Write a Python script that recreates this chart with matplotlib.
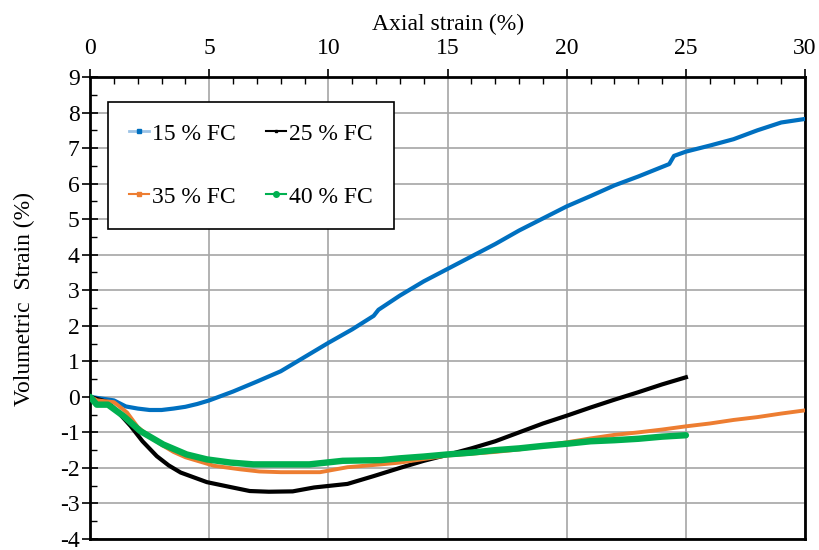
import matplotlib
matplotlib.use("Agg")
import matplotlib.pyplot as plt
from matplotlib.lines import Line2D
from matplotlib.ticker import MultipleLocator

plt.rcParams['font.family'] = ['Liberation Serif', 'DejaVu Serif']
plt.rcParams['axes.unicode_minus'] = False

# Data (axial strain %, volumetric strain %)
fc15_x = [0, 0.5, 1, 1.5, 2, 2.5, 3, 3.5, 4, 4.5, 5, 6, 7, 8, 8.5, 9, 10, 11, 11.9,
          12.1, 13, 14, 15, 16, 17, 18, 19, 20, 21, 22, 23, 24.3, 24.5, 25, 26, 27, 28, 29, 30]
fc15_y = [0, -0.05, -0.1, -0.27, -0.33, -0.37, -0.37, -0.33, -0.28, -0.2, -0.1, 0.15, 0.43,
          0.72, 0.92, 1.12, 1.52, 1.9, 2.28, 2.45, 2.85, 3.25, 3.6, 3.95, 4.3, 4.68, 5.02,
          5.36, 5.65, 5.95, 6.2, 6.55, 6.78, 6.9, 7.07, 7.25, 7.5, 7.72, 7.82]

fc25_x = [0, 0.75, 1.2, 1.7, 2.2, 2.8, 3.3, 3.8, 4.9, 5.9, 6.7, 7.5, 8.5, 9.4, 10.8, 11.9,
          13, 14, 15, 16, 17, 18, 19, 20, 21, 22, 23, 24, 25]
fc25_y = [0, -0.15, -0.45, -0.82, -1.25, -1.67, -1.93, -2.13, -2.4, -2.54, -2.65, -2.67,
          -2.66, -2.55, -2.45, -2.23, -2.0, -1.8, -1.63, -1.45, -1.25, -1.0, -0.75, -0.53,
          -0.3, -0.08, 0.13, 0.35, 0.55]

fc35_x = [0, 0.3, 1, 1.55, 2, 2.5, 3, 3.5, 4, 5.2, 6.3, 7.1, 8, 9.65, 10.8, 12.2, 13, 14,
          15, 16, 17, 18, 19, 20, 21, 22, 23, 24, 25, 26, 27, 28, 29, 30]
fc35_y = [0, -0.1, -0.15, -0.44, -0.85, -1.12, -1.35, -1.55, -1.7, -1.94, -2.04, -2.1,
          -2.12, -2.12, -1.98, -1.9, -1.85, -1.75, -1.65, -1.6, -1.55, -1.48, -1.38, -1.28,
          -1.17, -1.07, -1.0, -0.92, -0.83, -0.75, -0.65, -0.57, -0.47, -0.38]

fc40_x = [0, 0.28, 0.75, 1.4, 2.1, 3.07, 4.05, 4.9, 5.9, 6.85, 8, 9.2, 10.6, 12.2, 13, 14,
          15, 16, 17, 18, 19, 20, 21, 22, 23, 24, 25]
fc40_y = [0, -0.22, -0.22, -0.54, -0.96, -1.34, -1.62, -1.76, -1.85, -1.9, -1.9, -1.9,
          -1.8, -1.78, -1.73, -1.68, -1.62, -1.57, -1.5, -1.45, -1.38, -1.32, -1.25, -1.22,
          -1.18, -1.12, -1.08]

labels = ['15 % FC', '25 % FC', '35 % FC', '40 % FC']

fig = plt.figure(figsize=(8.19, 5.5), dpi=100)
ax = fig.add_axes([0.110, 0.020, 0.873, 0.840])

ax.plot(fc15_x, fc15_y, color='#0070C0', lw=3.0, zorder=3)
ax.plot(fc25_x, fc25_y, color='black', lw=3.0, zorder=4)
ax.plot(fc35_x, fc35_y, color='#ED7D31', lw=2.8, zorder=5)
ax.plot(fc40_x, fc40_y, color='#00B050', lw=4.6, solid_capstyle='round', zorder=6)

ax.set_xlim(0, 30)
ax.set_ylim(-4, 9)
ax.xaxis.tick_top()
ax.xaxis.set_label_position('top')
ax.xaxis.set_major_locator(MultipleLocator(5))
ax.xaxis.set_minor_locator(MultipleLocator(1))
ax.yaxis.set_major_locator(MultipleLocator(1))
ax.yaxis.set_minor_locator(MultipleLocator(0.5))
ax.tick_params(axis='x', which='major', direction='out', length=6, width=1.2,
               labelsize=17, pad=7, colors='black')
ax.tick_params(axis='x', which='minor', direction='in', length=5, width=1.0)
ax.tick_params(axis='y', which='major', direction='inout', length=11, width=1.2,
               labelsize=17, pad=2)
ax.tick_params(axis='y', which='minor', direction='in', length=5, width=1.0)

ax.set_xlabel('Axial strain (%)', fontsize=17, labelpad=6)
ax.set_ylabel('Volumetric  Strain (%)', fontsize=17)
ax.yaxis.set_label_coords(-0.077, 0.52)

ax.grid(True, which='major', color='#a6a6a6', lw=1.2)
for s in ax.spines.values():
    s.set_color('black')
    s.set_linewidth(2.0)

# legend entries ordered so that rows read 15/25 then 35/40
h15 = Line2D([], [], color='#9DC3E6', lw=2, marker='s', ms=3.5, mfc='#0070C0', mec='#0070C0')
h25 = Line2D([], [], color='black', lw=1.5, marker='s', ms=2, mfc='black', mec='black')
h35 = Line2D([], [], color='#ED7D31', lw=1.5, marker='s', ms=3, mfc='#ED7D31', mec='#ED7D31')
h40 = Line2D([], [], color='#00B050', lw=1.5, marker='o', ms=4, mfc='#00B050', mec='#00B050')
leg = ax.legend([h15, h35, h25, h40], [labels[0], labels[2], labels[1], labels[3]],
                ncol=2, loc='upper left', bbox_to_anchor=(0.025, 0.946),
                borderaxespad=0, fontsize=17, frameon=True, fancybox=False,
                edgecolor='black', framealpha=1, handlelength=0.85, handletextpad=0.1,
                columnspacing=1.3, labelspacing=1.75, borderpad=0.9)
leg.get_frame().set_linewidth(1.2)
leg.set_zorder(10)

fig.savefig('out.png', dpi=100)
